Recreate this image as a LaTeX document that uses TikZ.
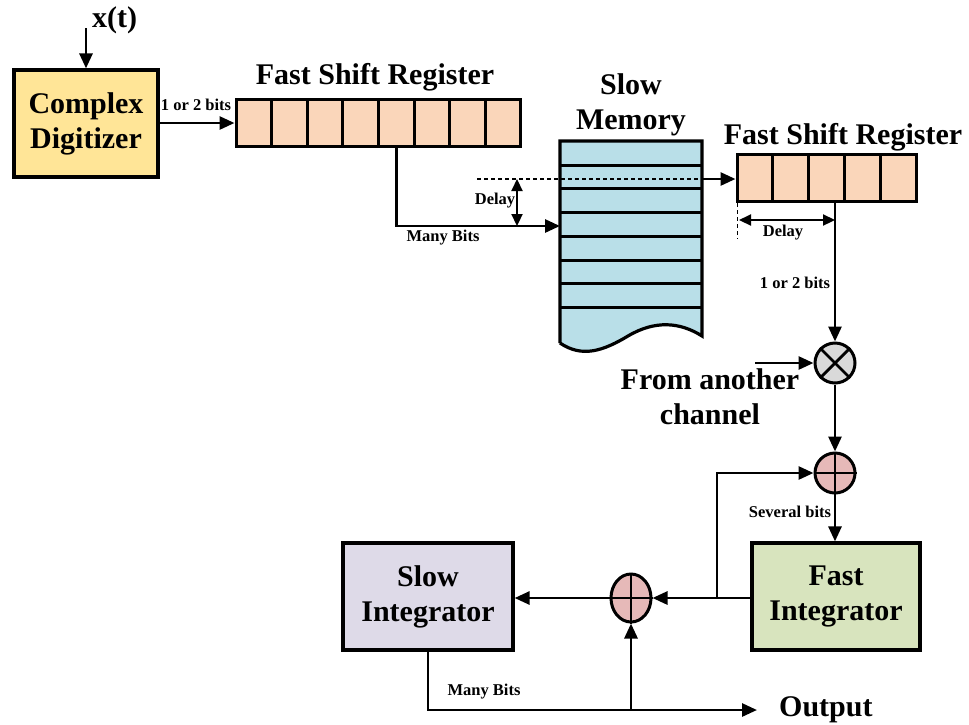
\documentclass[tikz,border=0pt]{standalone}
\usepackage{fontspec}
\setmainfont{Liberation Serif}
\usetikzlibrary{arrows.meta,calc,shapes.geometric}

\definecolor{digfill}{HTML}{FFE597}
\definecolor{regfill}{HTML}{FAD6BA}
\definecolor{memfill}{HTML}{B9DFE8}
\definecolor{fastfill}{HTML}{D8E4BE}
\definecolor{slowfill}{HTML}{DEDAE8}
\definecolor{mulfill}{HTML}{D9D9D9}
\definecolor{addfill}{HTML}{E6B9B8}

\tikzset{
  big/.style={font=\fontsize{30}{35}\selectfont\bfseries, align=center, inner sep=0pt},
  small/.style={font=\fontsize{16.5}{18}\selectfont\bfseries, inner sep=0pt},
  block/.style={draw, line width=3.2pt, minimum height=107pt, big},
  cell/.style={draw, line width=3pt, fill=regfill, minimum height=47pt, inner sep=0pt},
  wire/.style={line width=2.8pt},
  flow/.style={wire, -{Triangle[length=15pt,width=13pt]}},
  both/.style={line width=2.2pt, {Triangle[length=12pt,width=11pt]}-{Triangle[length=12pt,width=11pt]}},
  guide/.style={line width=1.1pt, dashed, dash pattern=on 4pt off 3pt},
  junction/.style={draw, line width=3pt, circle, minimum size=40pt, inner sep=0pt},
}

\begin{document}
\begin{tikzpicture}[x=1pt, y=-1pt]
\useasboundingbox (0,0) rectangle (969,724);

% ---- input digitizer ----
\node[block, fill=digfill, minimum width=144pt] (dig) at (86,123.5) {Complex\\Digitizer};
\coordinate (xin) at (86,28);
\node[big, anchor=west] (xt) at (92,20) {x(t)};
\draw[flow] (xin) -- (dig.north);

% ---- first fast shift register (8 cells) ----
\foreach \i in {1,...,8} {
  \node[cell, minimum width=35.6pt] (ra\i) at ({236+35.6*(\i-0.5)},123) {};
}
\node[big] (ratitle) at (375,77) {Fast Shift Register};
\draw[flow] (dig.east |- ra1.west) -- (ra1.west);
\node[small] (lab1) at (196,105) {1 or 2 bits};

% ---- slow memory ----
\coordinate (memnw) at (560,141);
\coordinate (memne) at (702,141);
\coordinate (memse) at (702,336);
\coordinate (memsw) at (560,343);
\fill[memfill] (memnw) -- (memne) -- (memse)
  .. controls (680,322) and (655,320) .. (628,336)
  .. controls (603,351) and (582,358) .. (memsw) -- cycle;
\foreach \yy in {165,188,212,236,260,283,307} {
  \draw[line width=3pt] (560,\yy) -- (702,\yy);
}
\draw[line width=3.2pt] (memsw) -- (memnw) -- (memne) -- (memse)
  .. controls (680,322) and (655,320) .. (628,336)
  .. controls (603,351) and (582,358) .. (memsw);
\node[big] (memtitle) at (631,105) {Slow\\Memory};

% write path into memory
\coordinate (memin) at (560,226);
\coordinate (tap1) at (ra5.south |- memin);
\draw[flow] (ra5.south) -- (tap1) -- (memin);
\node[small] (lab2) at (443,238) {Many Bits};

% read-out delay marker
\coordinate (rdl) at (477,179);
\coordinate (memout) at (702,179);
\draw[guide] (rdl) -- (memout);
\coordinate (dla) at (517,179);
\coordinate (dlb) at (517,226);
\draw[both] (dla) -- (dlb);
\node[small] (lab3) at (495,201) {Delay};

% ---- second fast shift register (5 cells) ----
\foreach \i in {1,...,5} {
  \node[cell, minimum width=35.8pt] (rb\i) at ({737+35.8*(\i-0.5)},178) {};
}
\node[big] (rbtitle) at (843,137) {Fast Shift Register};
\draw[flow] (memout) -- (rb1.west |- memout);

% ---- multiplier and adders ----
\node[junction, fill=mulfill] (mul) at (835,363) {};
\draw[line width=2.8pt] (mul.north west) -- (mul.south east) (mul.north east) -- (mul.south west);
\node[junction, fill=addfill] (add1) at (835,473) {};
\draw[line width=2.8pt] (add1.north) -- (add1.south) (add1.west) -- (add1.east);

% tap from second register
\coordinate (tap2) at (mul.north |- rb3.south);
\draw[flow] (tap2) -- (mul.north);
\coordinate (dlc) at (739,220);
\coordinate (dld) at (tap2 |- dlc);
\draw[guide] (rb1.south west) ++(2,0) -- ++(0,36);
\draw[both] (dlc) -- (dld);
\node[small] (lab4) at (783,233) {Delay};
\node[small] (lab5) at (795,283) {1 or 2 bits};

% other channel
\coordinate (other) at (755,363);
\draw[flow] (other) -- (mul.west);
\node[big] (othertxt) at (710,397) {From another\\channel};

\draw[flow] (mul.south) -- (add1.north);

% ---- integrators ----
\node[block, fill=fastfill, minimum width=168pt] (fast) at (836,596.5) {Fast\\Integrator};
\node[block, fill=slowfill, minimum width=170pt] (slow) at (428,596.5) {Slow\\Integrator};
\node[draw, line width=3pt, ellipse, fill=addfill, minimum width=40pt, minimum height=48pt, inner sep=0pt] (add2) at (631,598) {};
\draw[line width=2.8pt] (add2.north) -- (add2.south) (add2.west) -- (add2.east);

\draw[flow] (add1.south) -- (add1.south |- fast.north);
\node[small] (lab6) at (790,512) {Several bits};

\coordinate (fb) at (717,598);
\draw[flow] (fast.west |- add2) -- (add2.east);
\draw[flow] (fb) -- (fb |- add1) -- (add1.west);
\draw[flow] (add2.west) -- (slow.east |- add2);

% output path
\coordinate (outcorner) at (slow.south |- 0,710);
\coordinate (outend) at (757,710);
\coordinate (outtap) at (add2.south |- outend);
\draw[flow] (slow.south) -- (outcorner) -- (outend);
\draw[flow] (outtap) -- (add2.south);
\node[small] (lab7) at (484,692) {Many Bits};
\node[big, anchor=west] (outtxt) at (779,710) {Output};

\end{tikzpicture}
\end{document}
